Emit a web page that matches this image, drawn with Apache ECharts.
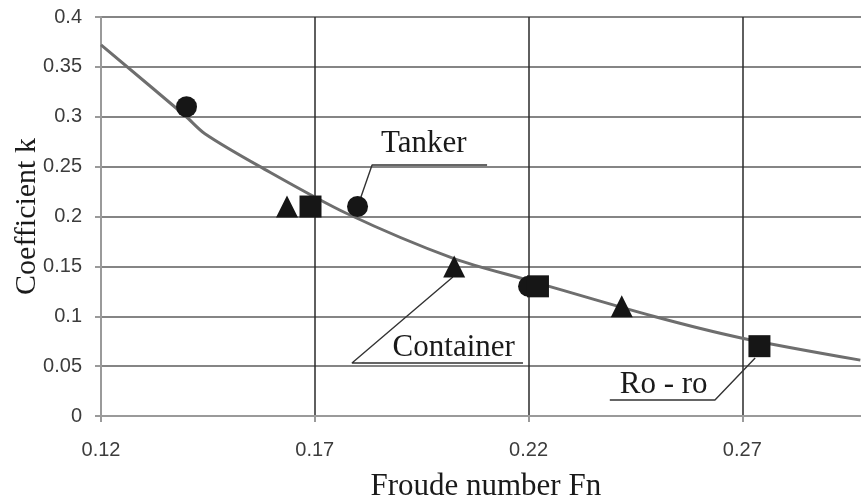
<!DOCTYPE html>
<html>
<head>
<meta charset="utf-8">
<script src="https://cdn.jsdelivr.net/npm/echarts@6/dist/echarts.min.js"></script>
<style>
html,body{margin:0;padding:0;background:#fff;}
#c{width:861px;height:504px;}
</style>
</head>
<body>
<div id="c"></div>
<script>
// Fitted curve k(Fn)
const curveFn = [0.12, 0.1397, 0.1443, 0.1572, 0.1775, 0.2024, 0.22, 0.2492, 0.27, 0.2976];
const curveK  = [0.372, 0.301, 0.283, 0.25, 0.203, 0.158, 0.136, 0.10, 0.078, 0.056];

// Ship types (measured points)
const tankerFn = [0.14, 0.18, 0.22];
const tankerK  = [0.31, 0.21, 0.13];
const containerFn = [0.1635, 0.2026, 0.2418];
const containerK  = [0.21, 0.15, 0.11];
const roroFn = [0.169, 0.2222, 0.274];
const roroK  = [0.21, 0.13, 0.07];

// Axis ticks
const xMin = 0.12, xMax = 0.30, xStep = 0.05;
const yMin = 0, yMax = 0.4, yStep = 0.05;

// Callout labels (text, anchor in data coords) and leader polylines (data coords)
const calloutText = ['Tanker', 'Container', 'Ro - ro'];
const calloutTextPos = [[0.1955, 0.2727], [0.2025, 0.0682], [0.2516, 0.0311]];
const calloutLines = [
  [[0.1808, 0.2195], [0.1834, 0.2516], [0.2103, 0.2516]],
  [[0.2023, 0.1393], [0.1787, 0.0531], [0.2187, 0.0531]],
  [[0.2730, 0.0581], [0.2636, 0.0160], [0.2390, 0.0160]]
];

const zip = (a, b) => a.map((v, i) => [v, b[i]]);
const chart = echarts.init(document.getElementById('c'), null, {renderer: 'canvas'});
const serif = '"Liberation Serif", "Times New Roman", serif';
const sans = '"Liberation Sans", Arial, sans-serif';
const markColor = '#161616';

const series = [
  {
    type: 'line', name: 'curve', data: zip(curveFn, curveK), showSymbol: false, symbol: 'none',
    smooth: 0.3,
    lineStyle: {color: '#6e6e6e', width: 3}, z: 2, silent: true
  },
  { type: 'scatter', name: 'Tanker', data: zip(tankerFn, tankerK), symbol: 'circle', symbolSize: 21,
    itemStyle: {color: markColor, opacity: 1}, z: 4 },
  { type: 'scatter', name: 'Container', data: zip(containerFn, containerK), symbol: 'triangle', symbolSize: 22,
    itemStyle: {color: markColor, opacity: 1}, z: 4 },
  { type: 'scatter', name: 'Ro-ro', data: zip(roroFn, roroK), symbol: 'rect', symbolSize: 22,
    itemStyle: {color: markColor, opacity: 1}, z: 5 }
];
calloutLines.forEach((pts, i) => {
  series.push({
    type: 'line', data: pts, symbol: 'none', silent: true, z: 3,
    lineStyle: {color: '#333', width: 1.4}
  });
});

chart.setOption({
  animation: false,
  backgroundColor: '#fff',
  grid: {left: 101, top: 17, right: -9.6, bottom: 88, containLabel: false, outerBoundsMode: 'none'},
  xAxis: {
    type: 'value', min: xMin, max: xMax, interval: xStep,
    name: 'Froude number Fn', nameLocation: 'middle', nameGap: 55, nameMoveOverlap: false,
    nameTextStyle: {fontFamily: serif, fontSize: 31, color: '#1a1a1a'},
    axisLine: {show: true, onZero: false, lineStyle: {color: '#9a9a9a', width: 2}},
    axisTick: {show: true, length: 6, inside: false, lineStyle: {color: '#9a9a9a', width: 2}},
    axisLabel: {showMaxLabel: false, margin: 24, fontFamily: sans, fontSize: 20, color: '#3c3c3c',
      formatter: v => v.toFixed(2)},
    splitLine: {show: true, showMinLine: false, showMaxLine: false, lineStyle: {color: '#2a2a2a', width: 1.5}}
  },
  yAxis: {
    type: 'value', min: yMin, max: yMax, interval: yStep,
    name: 'Coefficient k', nameLocation: 'middle', nameGap: 59, nameRotate: 90, nameMoveOverlap: false,
    nameTextStyle: {fontFamily: serif, fontSize: 30, color: '#1a1a1a'},
    axisLine: {show: true, onZero: false, lineStyle: {color: '#9a9a9a', width: 2}},
    axisTick: {show: true, length: 6, inside: false, lineStyle: {color: '#9a9a9a', width: 2}},
    axisLabel: {margin: 19, fontFamily: sans, fontSize: 20, color: '#3c3c3c',
      formatter: v => String(+v.toFixed(2))},
    splitLine: {show: true, showMinLine: false, lineStyle: {color: '#858585', width: 2}}
  },
  series: series
});

const graphics = calloutText.map((t, i) => {
  const p = chart.convertToPixel({gridIndex: 0}, calloutTextPos[i]);
  return {
    type: 'text', x: p[0], y: p[1], z: 10, silent: true,
    style: {text: t, font: '31px ' + serif, fill: '#1a1a1a', align: 'center', verticalAlign: 'middle'}
  };
});
chart.setOption({graphic: graphics});
</script>
</body>
</html>
